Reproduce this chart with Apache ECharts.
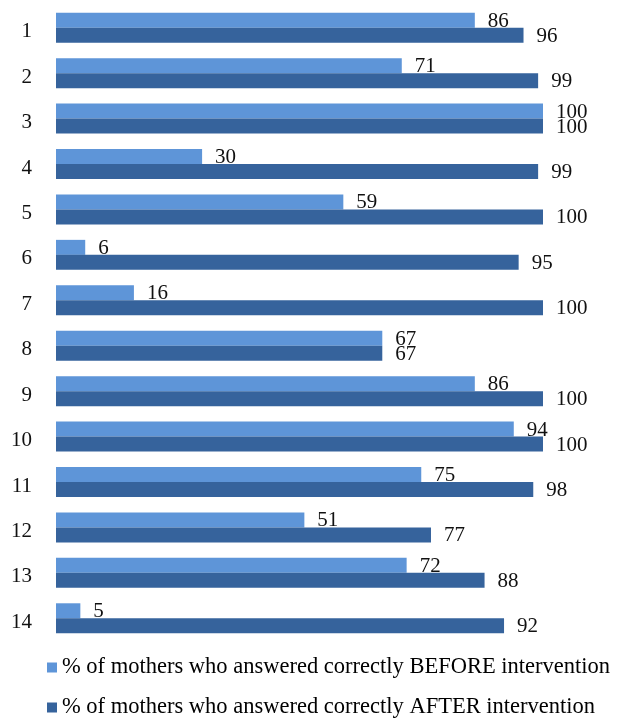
<!DOCTYPE html>
<html>
<head>
<meta charset="utf-8">
<script src="https://cdn.jsdelivr.net/npm/echarts@6/dist/echarts.min.js"></script>
<style>html,body{margin:0;padding:0;background:#fff;}#c{width:621px;height:719px;}</style>
</head>
<body>
<div id="c"></div>
<script>
const categories = ['1','2','3','4','5','6','7','8','9','10','11','12','13','14'];
const beforeValues = [86,71,100,30,59,6,16,67,86,94,75,51,72,5];
const afterValues = [96,99,100,99,100,95,100,67,100,100,98,77,88,92];
const seriesNames = ['% of mothers who answered correctly BEFORE intervention','% of mothers who answered correctly AFTER intervention'];

const font = '"Liberation Serif", "Times New Roman", serif';
const chart = echarts.init(document.getElementById('c'));
const labelStyle = {show:true, position:'right', distance:13, offset:[0,1], color:'#111', fontFamily:font, fontSize:21};
chart.setOption({
  animation:false,
  grid:{left:56, right:78, top:5, height:636, containLabel:false},
  xAxis:{type:'value', min:0, max:100, show:false},
  yAxis:{type:'category', data:categories, inverse:true,
    axisLine:{show:false}, axisTick:{show:false}, splitLine:{show:false},
    axisLabel:{margin:24, align:'right', verticalAlign:'middle',
      formatter:'{a|{value}}',
      rich:{a:{color:'#111', fontFamily:font, fontSize:21, lineHeight:21, padding:[8,0,0,0]}}}},
  legend:[
    {left:42, top:651, orient:'vertical', itemWidth:10, itemHeight:10, itemGap:6, data:[seriesNames[0]],
     textStyle:{fontFamily:font, fontSize:22.5, color:'#000'}, icon:'rect'},
    {left:42, top:691, orient:'vertical', itemWidth:10, itemHeight:10, itemGap:6, data:[seriesNames[1]],
     textStyle:{fontFamily:font, fontSize:22.5, color:'#000'}, icon:'rect'}
  ],
  series:[
    {name:seriesNames[0], type:'bar', data:beforeValues, barWidth:15, barGap:'0%', itemStyle:{color:'#5E95D8'}, label:labelStyle},
    {name:seriesNames[1], type:'bar', data:afterValues, barWidth:15, barGap:'0%', itemStyle:{color:'#36639C'}, label:labelStyle}
  ]
});
</script>
</body>
</html>
